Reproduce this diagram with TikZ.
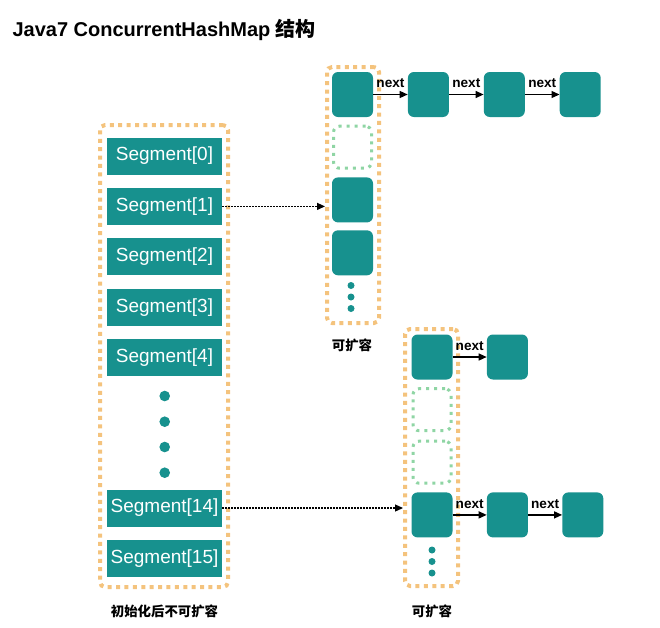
\documentclass[tikz,border=0pt]{standalone}
\usepackage{fontspec}
\setmainfont{Liberation Sans}
\newfontfamily\cjk{Noto Sans CJK SC}
\usetikzlibrary{arrows.meta,positioning}

\definecolor{segteal}{HTML}{17918E}
\definecolor{dotorange}{HTML}{F4C37D}
\definecolor{dotgreen}{HTML}{8FD5A4}

\begin{document}
\begin{tikzpicture}[x=1pt, y=-1pt, node distance=13pt, auto,
	seg/.style={fill=segteal, text=white, minimum width=115pt, minimum height=37pt, inner sep=0pt, font=\fontsize{19}{22}\selectfont},
	entry/.style={fill=segteal, rounded corners=6pt, minimum width=41pt, minimum height=45pt, inner sep=0pt},
	emptyentry/.style={draw=dotgreen, line width=3pt, dash pattern=on 3pt off 5pt, rounded corners=6pt, minimum width=38pt, minimum height=42pt, inner sep=0pt},
	table/.style={draw=dotorange, line width=4pt, dash pattern=on 4pt off 4.4pt, rounded corners=5pt, inner sep=0pt},
	bigdot/.style={circle, fill=segteal, minimum size=10.6pt, inner sep=0pt},
	smalldot/.style={circle, fill=segteal, minimum size=7pt, inner sep=0pt},
	caption/.style={font=\cjk\bfseries\fontsize{13.4}{16}\selectfont},
	nextarrow/.style={-{Triangle[length=8pt,width=7pt]}, line width=1.3pt},
	ptr/.style={-{Triangle[length=8pt,width=7pt]}, line width=1.2pt, dash pattern=on 1.5pt off 1.5pt},
	nextlabel/.style={font=\bfseries\fontsize{13.6}{16}\selectfont, inner sep=6pt}
	]
	\useasboundingbox (0,0) rectangle (660,627);

	\node[anchor=west, font=\bfseries\fontsize{20}{24}\selectfont] (title) at (9,30) {Java7 ConcurrentHashMap {\cjk 结构}};

	% segment array
	\node[table, minimum width=128pt, minimum height=462pt] (segs) at (164,356) {};
	\node[seg] (seg0) at (164.5,156) {Segment[0]};
	\node[seg, below=of seg0] (seg1) {Segment[1]};
	\node[seg, below=of seg1] (seg2) {Segment[2]};
	\node[seg, below=of seg2] (seg3) {Segment[3]};
	\node[seg, below=of seg3] (seg4) {Segment[4]};
	\node[seg, below=113pt of seg4] (seg14) {Segment[14]};
	\node[seg, below=of seg14] (seg15) {Segment[15]};
	\node[bigdot] (sdot1) at (164.7,396) {};
	\node[bigdot] (sdot2) at (164.7,421.7) {};
	\node[bigdot] (sdot3) at (164.7,447) {};
	\node[bigdot] (sdot4) at (164.7,472.7) {};
	\node[caption] (segcap) at (164.5,611) {初始化后不可扩容};

	% table of segment 1
	\node[table, minimum width=52pt, minimum height=256pt] (tabA) at (353,195) {};
	\node[entry] (a0) at (352.5,94.5) {};
	\node[emptyentry, below=7.5pt of a0] (a1) {};
	\node[entry, below=7.5pt of a1] (a2) {};
	\node[entry, below=7.5pt of a2] (a3) {};
	\node[smalldot] (adot1) at (351,285.5) {};
	\node[smalldot] (adot2) at (351,297) {};
	\node[smalldot] (adot3) at (351,308.5) {};
	\node[caption] (tabAcap) at (352,345) {可扩容};
	\node[entry, right=34.5pt of a0] (a0n1) {};
	\node[entry, right=34.5pt of a0n1] (a0n2) {};
	\node[entry, right=34.5pt of a0n2] (a0n3) {};

	% table of segment 14
	\node[table, minimum width=53pt, minimum height=257pt] (tabB) at (431.5,457.5) {};
	\node[entry] (b0) at (432,357) {};
	\node[emptyentry, below=7.5pt of b0] (b1) {};
	\node[emptyentry, below=7.5pt of b1] (b2) {};
	\node[entry, below=7.5pt of b2] (b3) {};
	\node[smalldot] (bdot1) at (432,550) {};
	\node[smalldot] (bdot2) at (432,561.5) {};
	\node[smalldot] (bdot3) at (432,573) {};
	\node[caption] (tabBcap) at (432,611) {可扩容};
	\node[entry, right=34pt of b0] (b0n1) {};
	\node[entry, right=34pt of b3] (b3n1) {};
	\node[entry, right=34pt of b3n1] (b3n2) {};

	\path [nextarrow]
		(a0) edge node[nextlabel] {next} (a0n1)
		(a0n1) edge node[nextlabel] {next} (a0n2)
		(a0n2) edge node[nextlabel] {next} (a0n3)
		(b0) edge node[nextlabel] {next} (b0n1)
		(b3) edge node[nextlabel] {next} (b3n1)
		(b3n1) edge node[nextlabel] {next} (b3n2)
	;

	\draw[ptr] (seg1.east) -- (seg1.east -| tabA.west);
	\draw[ptr] (seg14.east) -- (seg14.east -| tabB.west);
\end{tikzpicture}
\end{document}
